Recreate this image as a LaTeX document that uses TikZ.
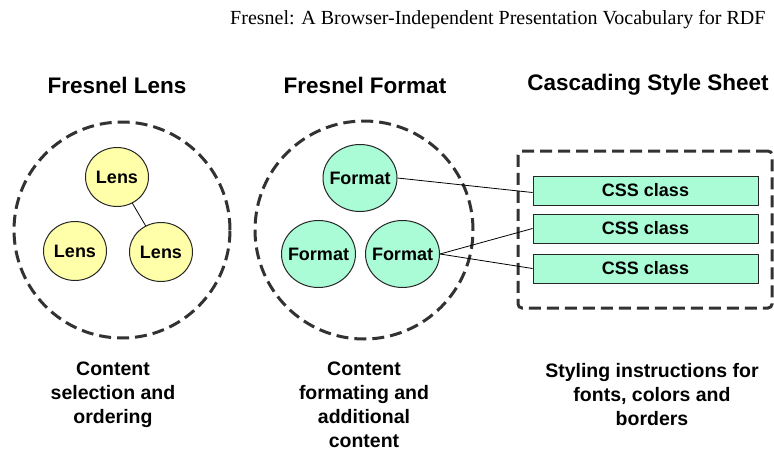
\documentclass[tikz,border=0pt]{standalone}
\usepackage{fontspec}
\setmainfont{Liberation Serif}
\setsansfont{Liberation Sans}
\usetikzlibrary{shapes.geometric}
\definecolor{lensfill}{RGB}{255,255,170}
\definecolor{mintfill}{RGB}{170,252,214}
\definecolor{dashgray}{RGB}{50,50,50}
\tikzset{
  group/.style={draw=dashgray, line width=3pt, dash pattern=on 12pt off 6pt},
  boldlabel/.style={font=\fontsize{18}{21}\selectfont\sffamily\bfseries},
  lensnode/.style={ellipse, draw=black!85, line width=1pt, fill=lensfill,
    minimum width=63pt, minimum height=59pt, inner sep=0pt, boldlabel},
  % the text is placed as a centred label so that the ellipse keeps its size
  fmtnode/.style={ellipse, draw=black!85, line width=1pt, fill=mintfill,
    minimum width=74pt, minimum height=67pt, inner sep=0pt,
    label={[boldlabel, inner sep=0pt]center:#1}},
  cssnode/.style={rectangle, draw=black!85, line width=1pt, fill=mintfill,
    minimum width=225pt, minimum height=29pt, inner sep=0pt, boldlabel},
  heading/.style={font=\fontsize{22.5}{26}\selectfont\sffamily\bfseries},
  caption/.style={align=center, font=\fontsize{19.5}{24}\selectfont\sffamily\bfseries},
  link/.style={draw=black, line width=0.8pt}
}
\begin{document}
\begin{tikzpicture}[x=1pt, y=-1pt]
\useasboundingbox (0,0) rectangle (774,453);
% page header
\node[anchor=east, font=\fontsize{20}{24}\selectfont] (hdr) at (769,20) {Fresnel: A Browser-Independent Presentation Vocabulary for RDF};
% column headings
\node[heading] (hlens) at (117,85) {Fresnel Lens};
\node[heading] (hfmt) at (365,85) {Fresnel Format};
\node[heading] (hcss) at (648,85) {Cascading Style Sheet};
% group outlines
\node[circle, group, minimum size=216pt, inner sep=0pt] (glens) at (122,230) {};
\node[circle, group, minimum size=218pt, inner sep=0pt] (gfmt) at (364,230) {};
\node[rectangle, group, rounded corners=4pt, minimum width=254pt, minimum height=157pt, inner sep=0pt] (gcss) at (645,229.5) {};
% lenses
\node[lensnode] (l1) at (117,177) {Lens};
\node[lensnode] (l2) at (75,251) {Lens};
\node[lensnode] (l3) at (161,252) {Lens};
\draw[link] (l1) -- (l3);
% formats
\node[fmtnode=Format] (f1) at (360,178) {};
\node[fmtnode=Format] (f2) at (318.5,254) {};
\node[fmtnode=Format] (f3) at (402.5,254) {};
% css classes
\node[cssnode] (c1) at (645.5,190.5) {CSS class};
\node[cssnode] (c2) at (645.5,228.5) {CSS class};
\node[cssnode] (c3) at (645.5,268.5) {CSS class};
\draw[link] (f1.east) -- ([yshift=-2pt]c1.west);
\draw[link] (f3.east) -- (c2.west);
\draw[link] (f3.east) -- (c3.west);
% captions
\node[caption, anchor=north] (t1) at (113,358) {Content\\selection and\\ordering};
\node[caption, anchor=north] (t2) at (364,358) {Content\\formating and\\additional\\content};
\node[caption, anchor=north] (t3) at (652,360) {Styling instructions for\\fonts, colors and\\borders};
\end{tikzpicture}
\end{document}
